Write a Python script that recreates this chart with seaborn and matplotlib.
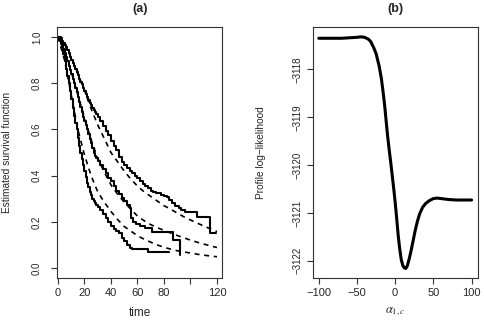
import numpy as np
import pandas as pd
import seaborn as sns
import matplotlib.pyplot as plt

# Kaplan-Meier estimates (solid steps)
t_km1 = list(range(0, 31)) + [32, 34, 36, 38, 40, 42, 44, 46, 48, 50, 52, 54, 56, 58, 60, 62, 64, 66, 68,
                              70, 72, 74, 76, 78, 80, 82, 84, 86, 88, 91, 93, 96, 105, 115, 119]
s_km1 = [1.0, 1.0, 0.995, 0.985, 0.975, 0.967, 0.958, 0.945, 0.93, 0.915, 0.9, 0.888, 0.875, 0.862, 0.85,
         0.835, 0.82, 0.805, 0.795, 0.78, 0.765, 0.752, 0.74, 0.727, 0.715, 0.705, 0.695, 0.685, 0.675,
         0.665, 0.655,
         0.635, 0.615, 0.595, 0.575, 0.548, 0.53, 0.51, 0.48, 0.46, 0.448, 0.435, 0.422, 0.41, 0.4,
         0.39, 0.378, 0.365, 0.355, 0.345, 0.335, 0.33, 0.327, 0.323, 0.318, 0.313, 0.309, 0.295, 0.28, 0.27,
         0.258, 0.25, 0.244, 0.222, 0.15, 0.15]

t_km2 = list(range(0, 31)) + [32, 34, 36, 38, 40, 42, 44, 46, 48, 50, 52, 54, 55, 57, 59, 62, 66, 71, 87, 92]
s_km2 = [1.0, 0.995, 0.985, 0.97, 0.95, 0.932, 0.915, 0.895, 0.875, 0.858, 0.84, 0.82, 0.8, 0.78, 0.76,
         0.74, 0.72, 0.698, 0.675, 0.655, 0.635, 0.618, 0.6, 0.58, 0.56, 0.54, 0.52, 0.5, 0.485, 0.475,
         0.465,
         0.445, 0.43, 0.41, 0.39, 0.375, 0.355, 0.335, 0.32, 0.305, 0.29, 0.275, 0.258, 0.215, 0.2, 0.19,
         0.18, 0.172, 0.157, 0.121, 0.056]

t_km3 = list(range(0, 31)) + [32, 34, 36, 38, 40, 42, 44, 46, 48, 50, 52, 54, 56, 68, 84]
s_km3 = [1.0, 0.99, 0.97, 0.95, 0.925, 0.895, 0.86, 0.83, 0.8, 0.765, 0.73, 0.695, 0.66, 0.63, 0.6, 0.565,
         0.53, 0.5, 0.47, 0.445, 0.42, 0.395, 0.37, 0.35, 0.33, 0.315, 0.3, 0.29, 0.28, 0.272, 0.265,
         0.25, 0.235, 0.215, 0.2, 0.182, 0.17, 0.16, 0.15, 0.13, 0.115, 0.1, 0.088, 0.081, 0.068, 0.068]

# fitted survival curves (dashed)
t_fit = [0, 5, 10, 15, 20, 25, 30, 35, 40, 45, 50, 55, 60, 65, 70, 75, 80, 85, 90, 95, 100, 105, 110, 115, 120]
s_fit1 = [1.0, 0.97, 0.91, 0.84, 0.77, 0.69, 0.62, 0.56, 0.5, 0.46, 0.42, 0.385, 0.355, 0.33, 0.31, 0.29,
          0.27, 0.255, 0.238, 0.222, 0.208, 0.195, 0.182, 0.17, 0.158]
s_fit2 = [1.0, 0.94, 0.85, 0.75, 0.65, 0.555, 0.475, 0.415, 0.36, 0.32, 0.285, 0.255, 0.225, 0.205, 0.188,
          0.175, 0.163, 0.152, 0.141, 0.131, 0.121, 0.112, 0.104, 0.096, 0.089]
s_fit3 = [1.0, 0.9, 0.75, 0.6, 0.49, 0.4, 0.33, 0.285, 0.245, 0.21, 0.18, 0.16, 0.14, 0.125, 0.112, 0.1,
          0.09, 0.082, 0.075, 0.07, 0.065, 0.06, 0.056, 0.052, 0.049]

# profile log-likelihood
alpha = [-100, -90, -80, -70, -60, -50, -45, -40, -35, -32, -28, -25, -21, -18, -16, -14, -12, -10, -8,
         -6, -4, -2, 0, 2, 4, 6, 8, 10, 12, 14, 16, 18, 20, 23, 26, 29, 32, 36, 40, 45, 50, 55, 60, 70, 80, 90, 100]
loglik = [-3117.35, -3117.35, -3117.35, -3117.35, -3117.34, -3117.33, -3117.32, -3117.33, -3117.37,
          -3117.42, -3117.55, -3117.67, -3117.93, -3118.2, -3118.45, -3118.72, -3119.05, -3119.38, -3119.66,
          -3119.92, -3120.2, -3120.48, -3120.78, -3121.12, -3121.48, -3121.76, -3121.98, -3122.1, -3122.15,
          -3122.16, -3122.1, -3121.98, -3121.85, -3121.62, -3121.38, -3121.18, -3121.02, -3120.88, -3120.8,
          -3120.74, -3120.7, -3120.69, -3120.7, -3120.72, -3120.73, -3120.73, -3120.73]

sns.set_style("ticks")
plt.rcParams['font.family'] = ['Liberation Sans', 'DejaVu Sans']
plt.rcParams['mathtext.fontset'] = 'stix'

fig = plt.figure(figsize=(4.84, 3.2), dpi=100)
ax1 = fig.add_axes([0.1184, 0.13125, 0.3403, 0.784])
ax2 = fig.add_axes([0.646, 0.13125, 0.341, 0.784])

# (a) survival curves
for t, s in [(t_km1, s_km1), (t_km2, s_km2), (t_km3, s_km3)]:
    sns.lineplot(x=t, y=s, ax=ax1, color='black', lw=1.5, drawstyle='steps-post',
                 estimator=None, sort=False)
for s in [s_fit1, s_fit2, s_fit3]:
    sns.lineplot(x=t_fit, y=s, ax=ax1, color='black', lw=1.2, linestyle=(0, (3, 2.8)),
                 estimator=None, sort=False)

ax1.set_xlim(-0.5, 123.8)
ax1.set_ylim(-0.043, 1.043)
ax1.set_xticks(range(0, 121, 20), ['0', '20', '40', '60', '80', '', '120'])
ax1.set_yticks(np.arange(0, 1.01, 0.2), ['0.0', '0.2', '0.4', '0.6', '0.8', '1.0'])
ax1.set_xlabel('time', fontsize=8.5)
ax1.set_ylabel('Estimated survival function', fontsize=7.3)
ax1.xaxis.set_label_coords(0.5, -0.115)
ax1.yaxis.set_label_coords(-0.275, 0.5)
ax1.set_title('(a)', fontweight='bold', fontsize=9, pad=11)

# (b) profile log-likelihood
sns.lineplot(x=alpha, y=loglik, ax=ax2, color='black', lw=2.2, estimator=None, sort=False)
ax2.set_xlim(-108, 108)
ax2.set_ylim(-3122.36, -3117.117)
ax2.set_xticks([-100, -50, 0, 50, 100], ['\u2212100', '\u221250', '0', '50', '100'])
yt = [-3122, -3121, -3120, -3119, -3118]
ax2.set_yticks(yt, ['\u2212%d' % abs(v) for v in yt])
ax2.set_xlabel(r'$\alpha_{1,c}$', fontsize=9)
ax2.set_ylabel('Profile log\u2212likelihood', fontsize=7.3)
ax2.xaxis.set_label_coords(0.5, -0.11)
ax2.yaxis.set_label_coords(-0.28, 0.5)
ax2.set_title('(b)', fontweight='bold', fontsize=9, pad=11)

for ax, ypad in [(ax1, 7), (ax2, 3)]:
    for sp in ax.spines.values():
        sp.set_visible(True)
        sp.set_linewidth(0.8)
        sp.set_color('#333333')
    ax.tick_params(axis='x', length=4, width=0.8, labelsize=8, pad=3, color='#333333')
    ax.tick_params(axis='y', length=4, width=0.8, labelsize=7, pad=ypad, color='#333333')
    for lab in ax.get_yticklabels():
        lab.set_rotation(90)
        lab.set_va('center')

fig.savefig('out.png', dpi=100)
